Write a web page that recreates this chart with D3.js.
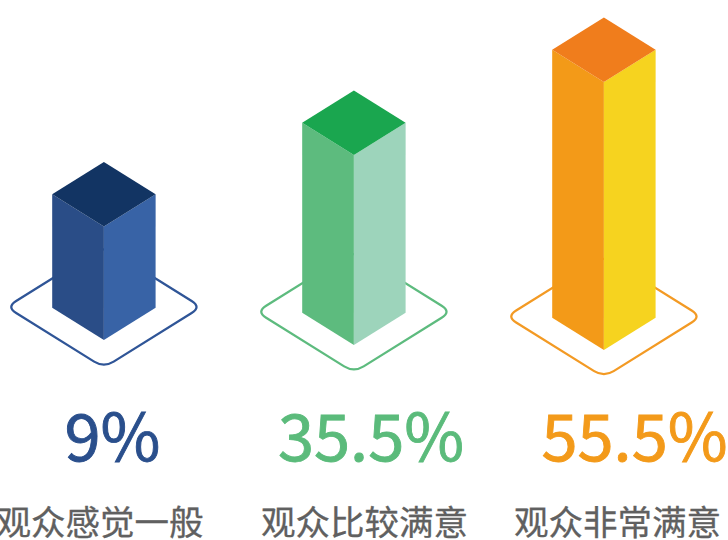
<!DOCTYPE html>
<html><head><meta charset="utf-8">
<script src="https://cdn.jsdelivr.net/npm/d3@7"></script>
<style>html,body{margin:0;background:#fff}svg{display:block}text{font-family:"Noto Sans CJK SC","Noto Sans",sans-serif}</style>
</head><body><script>
const categories = ["观众感觉一般","观众比较满意","观众非常满意"];
const values = [9,35.5,55.5];
const valueLabels = ["9%","35.5%","55.5%"];
const topColors = ["#123463","#1AA64F","#F07D1C"];
const leftColors = ["#2A4D87","#5DBB7E","#F39A18"];
const rightColors = ["#3863A6","#9DD4BB","#F6D31F"];
const ringColors = ["#2F5597","#5DBB7E","#F39A24"];
const textColors = ["#2A4F8C","#5BBB7B","#F39A1A"];

const W=728,H=540, hw=51.7, hh=32.3, rw=97.5, rh=60.7;
const svg=d3.select("body").append("svg").attr("width",W).attr("height",H);
const x=d3.scalePoint().domain(categories).range([103.9,603.9]);
const baseY=d3.scalePoint().domain(categories).range([340,350]);
const ringY=d3.scalePoint().domain(categories).range([307,316.5]);
const h=d3.scaleLinear().domain(values).range([113.5,190,268]);
const numX=d3.scaleOrdinal().domain(categories).range([112.5,371,634.5]);
const catX=d3.scaleOrdinal().domain(categories).range([100,364.5,617.5]);

function ring(cx,cy){
  const f=0.1,p=d3.path();
  const pts=[[cx,cy-rh],[cx+rw,cy],[cx,cy+rh],[cx-rw,cy]];
  const lerp=(a,b,t)=>[a[0]+(b[0]-a[0])*t,a[1]+(b[1]-a[1])*t];
  pts.forEach((c,i)=>{
    const prev=pts[(i+3)%4],next=pts[(i+1)%4];
    const a=lerp(c,prev,f),b=lerp(c,next,f);
    if(i===0)p.moveTo(a[0],a[1]);else p.lineTo(a[0],a[1]);
    p.quadraticCurveTo(c[0],c[1],b[0],b[1]);
  });
  p.closePath();
  return p.toString();
}
const poly=d3.line();
const g=svg.selectAll("g.bar").data(categories).join("g").attr("class","bar");
g.append("path").attr("d",c=>ring(x(c),ringY(c))).attr("fill","none")
  .attr("stroke",(c,i)=>ringColors[i]).attr("stroke-width",2.3);
g.append("path").attr("fill",(c,i)=>leftColors[i]).attr("d",(c,i)=>{
  const X=x(c),B=baseY(c),T=B-h(values[i]);
  return poly([[X-hw,T-hh],[X,T],[X,B],[X-hw,B-hh]])+"Z";});
g.append("path").attr("fill",(c,i)=>rightColors[i]).attr("d",(c,i)=>{
  const X=x(c),B=baseY(c),T=B-h(values[i]);
  return poly([[X+hw,T-hh],[X,T],[X,B],[X+hw,B-hh]])+"Z";});
g.append("path").attr("fill",(c,i)=>topColors[i]).attr("d",(c,i)=>{
  const X=x(c),T=baseY(c)-h(values[i]);
  return poly([[X,T],[X+hw,T-hh],[X,T-2*hh],[X-hw,T-hh]])+"Z";});
g.append("text").attr("x",c=>numX(c)).attr("y",461).attr("text-anchor","middle")
  .attr("font-size",65).attr("fill",(c,i)=>textColors[i])
  .attr("stroke",(c,i)=>textColors[i]).attr("stroke-width",0.9).text((c,i)=>valueLabels[i]);
g.append("text").attr("x",c=>catX(c)).attr("y",535).attr("text-anchor","middle")
  .attr("font-size",34.5).attr("fill","#606060").attr("stroke","#606060").attr("stroke-width",0.3).text(c=>c);
</script></body></html>
